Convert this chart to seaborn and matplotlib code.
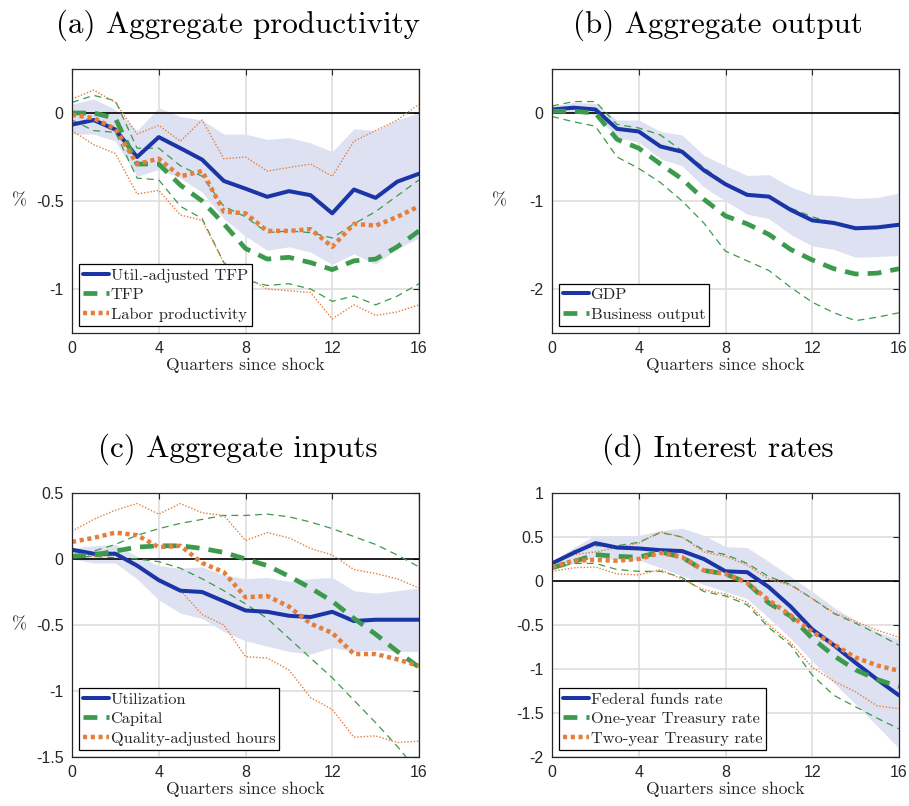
import matplotlib
matplotlib.use("Agg")
import matplotlib.pyplot as plt
import seaborn as sns

# ---------------------------------------------------------------------------
# Impulse responses (percent) over 0..16 quarters, with confidence bands
# ---------------------------------------------------------------------------
quarters = list(range(17))
x_ticks = [0, 4, 8, 12, 16]
x_tick_labels = ["0", "4", "8", "12", "16"]

# (a) Aggregate productivity
util_tfp = [-0.066, -0.04, -0.094, -0.25, -0.137, -0.20, -0.265, -0.386, -0.43,
            -0.476, -0.444, -0.467, -0.57, -0.435, -0.482, -0.39, -0.345]
util_tfp_hi = [0.05, 0.08, 0.02, -0.10, 0.03, -0.02, -0.04, -0.12, -0.12,
               -0.15, -0.14, -0.17, -0.22, -0.09, -0.10, -0.04, 0.0]
util_tfp_lo = [-0.12, -0.12, -0.16, -0.36, -0.32, -0.37, -0.45, -0.60, -0.70,
               -0.78, -0.76, -0.79, -0.86, -0.80, -0.86, -0.77, -0.71]
tfp = [0.0, 0.0, -0.03, -0.29, -0.29, -0.41, -0.50, -0.63, -0.77,
       -0.83, -0.82, -0.85, -0.89, -0.84, -0.83, -0.76, -0.67]
tfp_hi = [0.06, 0.10, 0.07, -0.20, -0.20, -0.30, -0.36, -0.53, -0.59,
          -0.68, -0.67, -0.68, -0.71, -0.63, -0.56, -0.47, -0.38]
tfp_lo = [-0.04, -0.10, -0.11, -0.37, -0.38, -0.53, -0.60, -0.85, -0.95,
          -0.98, -0.97, -1.00, -1.07, -1.04, -1.09, -1.04, -0.97]
labor_prod = [-0.01, -0.03, -0.09, -0.29, -0.26, -0.36, -0.33, -0.56, -0.57,
              -0.67, -0.67, -0.66, -0.76, -0.63, -0.64, -0.59, -0.53]
labor_prod_hi = [0.08, 0.13, 0.06, -0.12, -0.07, -0.16, -0.04, -0.26, -0.25,
                 -0.33, -0.31, -0.29, -0.36, -0.16, -0.10, -0.04, 0.05]
labor_prod_lo = [-0.10, -0.18, -0.23, -0.46, -0.44, -0.58, -0.61, -0.85, -0.93,
                 -1.00, -1.01, -1.02, -1.17, -1.09, -1.15, -1.13, -1.09]

# (b) Aggregate output
gdp = [0.04, 0.06, 0.04, -0.18, -0.21, -0.38, -0.44, -0.65, -0.81,
       -0.93, -0.95, -1.10, -1.22, -1.25, -1.31, -1.30, -1.27]
gdp_hi = [0.08, 0.12, 0.11, -0.08, -0.08, -0.21, -0.25, -0.48, -0.60,
          -0.71, -0.70, -0.84, -0.93, -0.94, -0.97, -0.96, -0.91]
gdp_lo = [0.0, 0.01, -0.02, -0.28, -0.33, -0.52, -0.60, -0.84, -1.00,
          -1.15, -1.20, -1.38, -1.51, -1.55, -1.64, -1.63, -1.62]
bus_out = [0.02, 0.02, 0.0, -0.30, -0.40, -0.58, -0.75, -0.98, -1.17,
           -1.26, -1.38, -1.55, -1.67, -1.77, -1.83, -1.82, -1.77]
bus_out_hi = [0.08, 0.13, 0.13, -0.13, -0.17, -0.25, -0.43, -0.62, -0.80,
              -0.92, -0.96, -1.08, -1.18, -1.25, -1.31, -1.30, -1.26]
bus_out_lo = [-0.04, -0.10, -0.15, -0.50, -0.63, -0.79, -1.00, -1.25, -1.57,
              -1.68, -1.79, -1.98, -2.15, -2.27, -2.36, -2.32, -2.27]

# (c) Aggregate inputs
utilization = [0.07, 0.04, 0.04, -0.05, -0.16, -0.24, -0.25, -0.32, -0.39,
               -0.40, -0.43, -0.44, -0.40, -0.47, -0.46, -0.46, -0.46]
utilization_hi = [0.08, 0.10, 0.11, 0.02, -0.05, -0.07, -0.06, -0.12, -0.15,
                  -0.14, -0.17, -0.15, -0.14, -0.24, -0.26, -0.24, -0.22]
utilization_lo = [0.0, -0.03, -0.03, -0.15, -0.31, -0.41, -0.45, -0.55, -0.62,
                  -0.66, -0.70, -0.72, -0.67, -0.70, -0.69, -0.70, -0.70]
capital = [0.02, 0.03, 0.06, 0.09, 0.10, 0.10, 0.08, 0.05, 0.0,
           -0.05, -0.13, -0.22, -0.32, -0.45, -0.57, -0.70, -0.82]
capital_hi = [0.02, 0.06, 0.11, 0.18, 0.23, 0.27, 0.30, 0.33, 0.33,
              0.34, 0.32, 0.28, 0.23, 0.17, 0.11, 0.03, -0.06]
capital_lo = [0.01, 0.02, 0.01, 0.0, -0.02, -0.07, -0.15, -0.24, -0.34,
              -0.45, -0.60, -0.75, -0.90, -1.07, -1.24, -1.42, -1.62]
hours = [0.13, 0.16, 0.20, 0.18, 0.09, 0.10, -0.03, -0.10, -0.29,
         -0.28, -0.36, -0.49, -0.56, -0.72, -0.72, -0.76, -0.81]
hours_hi = [0.21, 0.30, 0.37, 0.42, 0.34, 0.42, 0.35, 0.33, 0.14,
            0.20, 0.16, 0.08, 0.03, -0.08, -0.11, -0.15, -0.22]
hours_lo = [0.05, 0.02, 0.03, -0.06, -0.17, -0.24, -0.42, -0.50, -0.74,
            -0.75, -0.84, -1.05, -1.14, -1.35, -1.34, -1.39, -1.38]

# (d) Interest rates
ffr = [0.20, 0.32, 0.43, 0.38, 0.37, 0.35, 0.34, 0.25, 0.11,
       0.10, -0.07, -0.29, -0.55, -0.73, -0.93, -1.12, -1.30]
ffr_hi = [0.22, 0.38, 0.52, 0.51, 0.52, 0.57, 0.60, 0.52, 0.39,
          0.38, 0.22, 0.05, -0.12, -0.30, -0.45, -0.58, -0.66]
ffr_lo = [0.16, 0.20, 0.27, 0.24, 0.24, 0.15, 0.06, -0.04, -0.12,
          -0.20, -0.42, -0.65, -0.91, -1.16, -1.40, -1.65, -1.90]
one_year = [0.15, 0.22, 0.30, 0.28, 0.27, 0.33, 0.27, 0.12, 0.08,
            -0.02, -0.25, -0.40, -0.65, -0.85, -1.01, -1.12, -1.20]
one_year_hi = [0.20, 0.34, 0.40, 0.40, 0.44, 0.55, 0.50, 0.35, 0.30,
               0.20, 0.05, -0.04, -0.20, -0.37, -0.48, -0.60, -0.73]
one_year_lo = [0.14, 0.20, 0.20, 0.13, 0.11, 0.11, 0.04, -0.12, -0.17,
               -0.27, -0.53, -0.73, -1.07, -1.30, -1.43, -1.56, -1.68]
two_year = [0.16, 0.23, 0.24, 0.23, 0.25, 0.32, 0.27, 0.12, 0.08,
            -0.02, -0.22, -0.39, -0.58, -0.72, -0.87, -0.96, -1.02]
two_year_hi = [0.20, 0.30, 0.33, 0.38, 0.43, 0.56, 0.50, 0.33, 0.28,
               0.18, 0.02, -0.05, -0.20, -0.36, -0.46, -0.56, -0.64]
two_year_lo = [0.11, 0.15, 0.16, 0.08, 0.07, 0.13, 0.02, -0.10, -0.15,
               -0.24, -0.50, -0.70, -0.98, -1.14, -1.26, -1.42, -1.45]

# ---------------------------------------------------------------------------
# Styling
# ---------------------------------------------------------------------------
sns.set_style("white")
plt.rcParams["font.family"] = ["Liberation Sans", "DejaVu Sans"]
plt.rcParams["axes.unicode_minus"] = False
plt.rcParams["lines.scale_dashes"] = False

SERIF = ["cmr10", "DejaVu Serif"]
BLUE = "#1b35a6"
GREEN = "#3c9a4c"
ORANGE = "#e57e3a"
BAND = "#dde1f1"
TEXT = "#262626"

STYLE_MAIN = {
    "solid": dict(linewidth=2.9, linestyle="-"),
    "dash": dict(linewidth=3.4, linestyle=(0, (10, 6.5))),
    "dot": dict(linewidth=3.2, linestyle=(0, (3.0, 2.6))),
}
STYLE_BOUND = {
    "dash": dict(linewidth=0.9, linestyle=(0, (5, 3.5))),
    "dot": dict(linewidth=1.0, linestyle=(0, (1.0, 1.3))),
}


def draw_panel(ax, title, series, band, yticks, ylim, ylabel, legend_labels):
    lo, hi = band
    ax.fill_between(quarters, lo, hi, color=BAND, linewidth=0, zorder=1)
    ax.axhline(0, color="black", linewidth=1.2, zorder=2)

    # confidence bounds of the other series
    for values, low, high, color, kind in series:
        if low is not None and kind in STYLE_BOUND:
            for b in (low, high):
                sns.lineplot(x=quarters, y=b, ax=ax, color=color, zorder=3,
                             **STYLE_BOUND[kind])
    for (values, low, high, color, kind), lab in zip(series, legend_labels):
        sns.lineplot(x=quarters, y=values, ax=ax, color=color, zorder=4,
                     label=lab, **STYLE_MAIN[kind])

    ax.set_xlim(0, 16)
    ax.set_ylim(*ylim)
    ax.set_xticks(x_ticks)
    ax.set_xticklabels(x_tick_labels)
    ax.set_yticks(yticks)
    ax.set_yticklabels(["%g" % t for t in yticks])
    ax.tick_params(direction="in", length=4, width=0.8, colors=TEXT,
                   labelsize=11.5, top=True, right=True, pad=6,
                   labelcolor=TEXT)
    ax.grid(True, color="#dedede", linewidth=1.2)
    ax.set_axisbelow(True)
    for s in ax.spines.values():
        s.set_color(TEXT)
        s.set_linewidth(0.9)
        s.set_zorder(6)

    ax.set_title(title, family=SERIF, fontsize=22.3, color="black", pad=26,
                 x=0.477)
    ax.set_xlabel("Quarters since shock", family=SERIF, fontsize=12.6,
                  color=TEXT, labelpad=1)
    if ylabel:
        ax.set_ylabel("%", family=SERIF, fontsize=13, color=TEXT,
                      rotation=0, va="center", ha="center")
        ax.yaxis.set_label_coords(-0.15, 0.5)
    else:
        ax.set_ylabel("")

    leg = ax.legend(loc="lower left", prop={"family": SERIF, "size": 11.8},
                    frameon=True, fancybox=False, edgecolor="black",
                    framealpha=1, borderpad=0.25, labelspacing=0.3,
                    handlelength=1.55, handletextpad=0.1,
                    borderaxespad=0.45)
    leg.get_frame().set_linewidth(0.9)
    leg.set_zorder(10)


fig = plt.figure(figsize=(9.09, 8.06), dpi=100)
W, H = 909, 806


def add_axes(left, top, right, bottom):
    return fig.add_axes([left / W, 1 - bottom / H, (right - left) / W,
                         (bottom - top) / H])


ax_a = add_axes(72, 69, 419, 333)
ax_b = add_axes(552, 69, 899, 333)
ax_c = add_axes(72, 493, 419, 757)
ax_d = add_axes(552, 493, 899, 757)

draw_panel(
    ax_a, "(a) Aggregate productivity",
    [(util_tfp, None, None, BLUE, "solid"),
     (tfp, tfp_lo, tfp_hi, GREEN, "dash"),
     (labor_prod, labor_prod_lo, labor_prod_hi, ORANGE, "dot")],
    (util_tfp_lo, util_tfp_hi), [-1, -0.5, 0], (-1.25, 0.25), True,
    ["Util.-adjusted TFP", "TFP", "Labor productivity"])

draw_panel(
    ax_b, "(b) Aggregate output",
    [(gdp, None, None, BLUE, "solid"),
     (bus_out, bus_out_lo, bus_out_hi, GREEN, "dash")],
    (gdp_lo, gdp_hi), [-2, -1, 0], (-2.5, 0.5), True,
    ["GDP", "Business output"])

draw_panel(
    ax_c, "(c) Aggregate inputs",
    [(utilization, None, None, BLUE, "solid"),
     (capital, capital_lo, capital_hi, GREEN, "dash"),
     (hours, hours_lo, hours_hi, ORANGE, "dot")],
    (utilization_lo, utilization_hi), [-1.5, -1, -0.5, 0, 0.5], (-1.5, 0.5),
    True, ["Utilization", "Capital", "Quality-adjusted hours"])

draw_panel(
    ax_d, "(d) Interest rates",
    [(ffr, None, None, BLUE, "solid"),
     (one_year, one_year_lo, one_year_hi, GREEN, "dash"),
     (two_year, two_year_lo, two_year_hi, ORANGE, "dot")],
    (ffr_lo, ffr_hi), [-2, -1.5, -1, -0.5, 0, 0.5, 1], (-2, 1), False,
    ["Federal funds rate", "One-year Treasury rate", "Two-year Treasury rate"])

fig.savefig("out.png", dpi=100)
